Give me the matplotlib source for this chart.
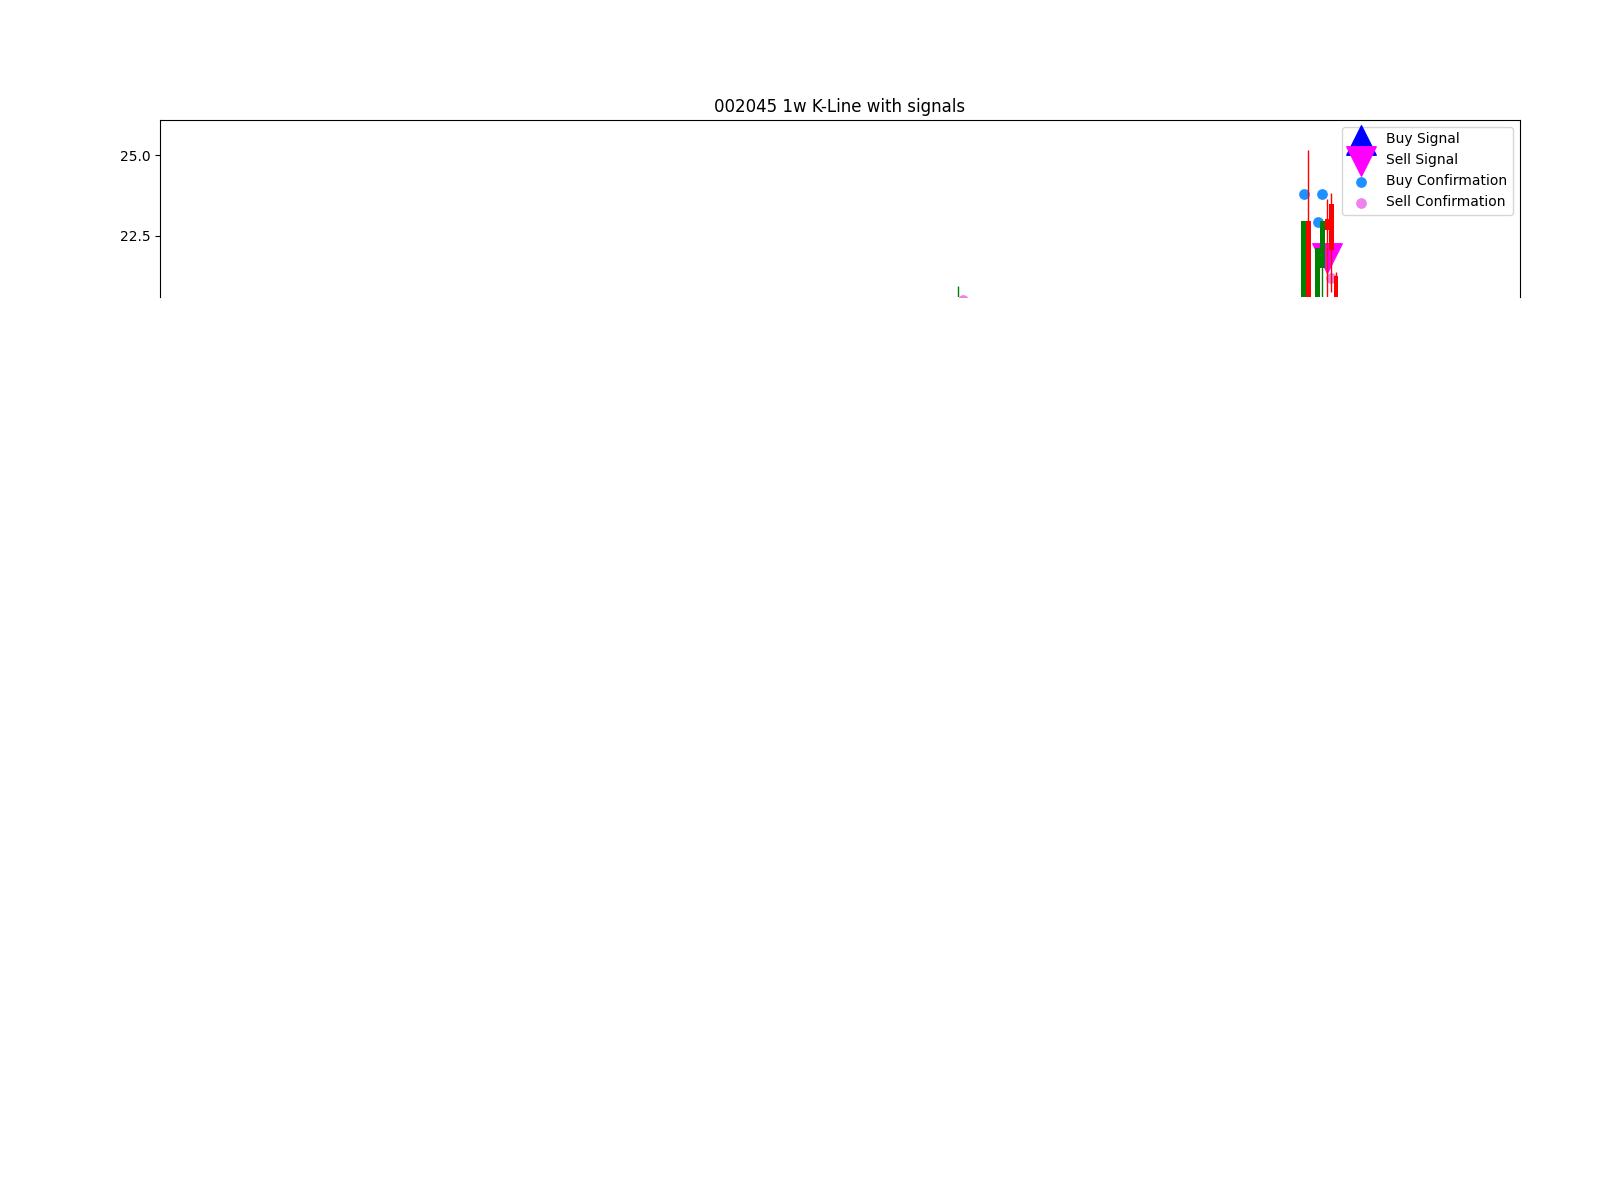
import matplotlib
matplotlib.use("Agg")
import matplotlib.pyplot as plt
from matplotlib.ticker import MultipleLocator

# weekly candles (x = week number)
weeks = [173, 248, 249, 251, 252, 253, 254, 255]
opens = [20.50, 22.97, 20.30, 22.13, 22.97, 22.69, 22.07, 20.40]
closes = [20.10, 20.20, 22.97, 20.40, 21.50, 23.03, 23.49, 21.26]
highs = [20.96, 22.97, 25.16, 22.13, 22.97, 23.64, 23.83, 21.39]
lows = [19.80, 19.90, 20.00, 20.10, 20.00, 20.20, 20.78, 20.30]

# signals
buy_x = []
buy_y = []
sell_x = [253]
sell_y = [21.82]

buy_conf_x = [248, 251, 252]
buy_conf_y = [23.80, 22.94, 23.80]
sell_conf_x = [174, 254]
sell_conf_y = [20.51, 21.20]


def plot_kline():
    fig = plt.figure(figsize=(16, 12), dpi=100)
    ax = fig.add_axes([0.1, 0.7525, 0.85, 0.1475])

    ax.scatter(buy_x, buy_y, marker="^", color="blue", s=450, label="Buy Signal", zorder=1)
    ax.scatter(sell_x, sell_y, marker="v", color="magenta", s=450, label="Sell Signal", zorder=1)
    ax.scatter(buy_conf_x, buy_conf_y, marker="o", color="dodgerblue", s=45,
               label="Buy Confirmation", zorder=1)
    ax.scatter(sell_conf_x, sell_conf_y, marker="o", color="violet", s=45,
               label="Sell Confirmation", zorder=1)

    # candles drawn on top of the markers
    for w, o, c, h, l in zip(weeks, opens, closes, highs, lows):
        color = "red" if c >= o else "green"
        ax.vlines(w, l, h, color=color, linewidth=1, zorder=3)
        ax.bar(w, abs(c - o), bottom=min(o, c), width=1.0, color=color, zorder=3)

    ax.set_xlim(-0.1, 294.9)
    ax.set_ylim(20.61, 26.09)
    ax.yaxis.set_major_locator(MultipleLocator(2.5))
    ax.spines["bottom"].set_visible(False)
    ax.set_xticks([])
    ax.set_title("002045 1w K-Line with signals")
    ax.legend(loc="upper right")
    plt.savefig("out.png")
    plt.close()


plot_kline()
